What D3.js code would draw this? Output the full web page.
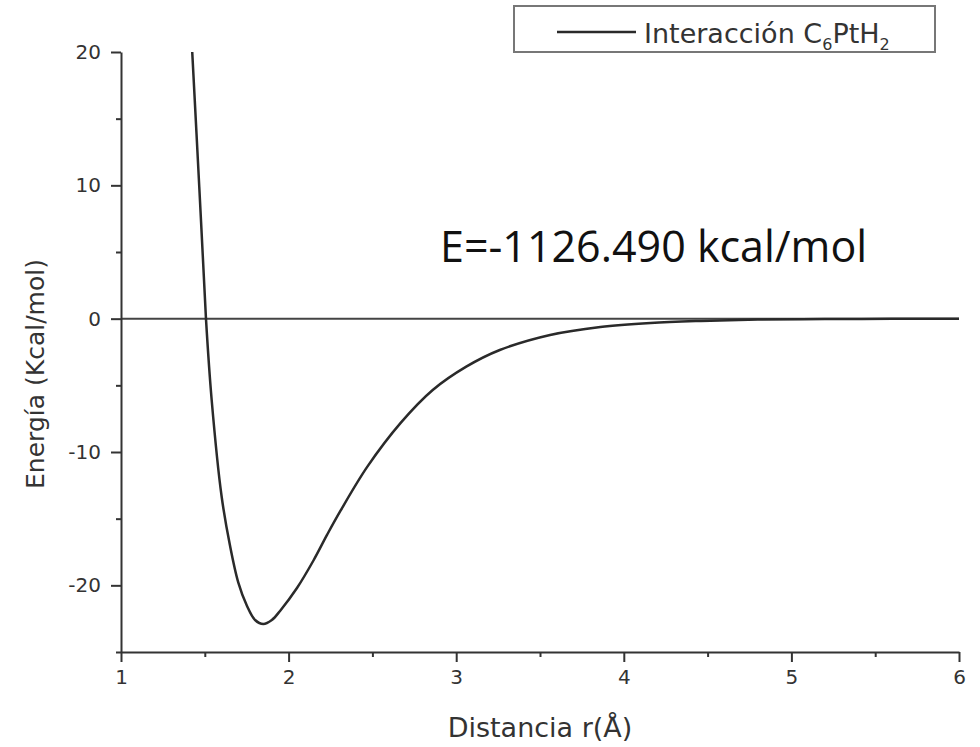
<!DOCTYPE html>
<html>
<head>
<meta charset="utf-8">
<script src="https://cdn.jsdelivr.net/npm/d3@7"></script>
<style>
  body { margin: 0; background: #fff; }
  svg text { fill: #333; font-family: "DejaVu Sans", sans-serif; }
</style>
</head>
<body>
<div id="chart"></div>
<script>
// distance r (Å) and energy (kcal/mol)
var distance = [1.425, 1.45, 1.48, 1.507, 1.541, 1.60, 1.65, 1.70, 1.75, 1.80, 1.849, 1.90, 1.95, 2.05, 2.15, 2.23, 2.31, 2.47, 2.67, 2.86, 3.06, 3.26, 3.56, 3.86, 4.16, 4.46, 4.8, 5.2, 5.6, 6.0];
var energy   = [20, 14.0, 6.7, 0, -6.1, -13.3, -17.0, -19.8, -21.5, -22.6, -22.9, -22.6, -21.9, -20.2, -18.1, -16.2, -14.4, -11.1, -7.8, -5.35, -3.6, -2.35, -1.22, -0.62, -0.32, -0.17, -0.07, -0.03, -0.01, 0];
var xTicks = [1, 2, 3, 4, 5, 6];
var xMinor = [1.5, 2.5, 3.5, 4.5, 5.5];
var yTicks = [20, 10, 0, -10, -20];
var yMinor = [15, 5, -5, -15, -25];

var width = 980, height = 747;
var x = d3.scaleLinear().domain([1, 6]).range([121, 959]);
var y = d3.scaleLinear().domain([-25, 20]).range([652, 52]);

var svg = d3.select('#chart').append('svg')
    .attr('width', width)
    .attr('height', height);

// zero line
svg.append('line')
    .attr('x1', x(1)).attr('x2', x(6))
    .attr('y1', y(0)).attr('y2', y(0))
    .attr('stroke', '#444').attr('stroke-width', 2);

// axes
function styleAxis(g) {
    g.selectAll('path, line').attr('stroke', '#333').attr('stroke-width', 2);
    g.selectAll('text').attr('font-size', 20).attr('fill', '#2b2b2b')
        .attr('font-family', '"DejaVu Sans", sans-serif');
}
var fmt = function(d) { return String(d); };

svg.append('g')
    .attr('transform', 'translate(0,' + y(-25) + ')')
    .call(d3.axisBottom(x).tickValues(xMinor).tickSize(5).tickSizeOuter(0).tickFormat(''))
    .call(styleAxis);
svg.append('g')
    .attr('transform', 'translate(0,' + y(-25) + ')')
    .call(d3.axisBottom(x).tickValues(xTicks).tickSize(10).tickSizeOuter(0).tickPadding(8).tickFormat(fmt))
    .call(styleAxis)
    .call(g => g.select('.domain').remove());

svg.append('g')
    .attr('transform', 'translate(' + x(1) + ',0)')
    .call(d3.axisLeft(y).tickValues(yMinor).tickSize(5).tickSizeOuter(0).tickFormat(''))
    .call(styleAxis);
svg.append('g')
    .attr('transform', 'translate(' + x(1) + ',0)')
    .call(d3.axisLeft(y).tickValues(yTicks).tickSize(10).tickSizeOuter(0).tickPadding(10).tickFormat(fmt))
    .call(styleAxis)
    .call(g => g.select('.domain').remove());

// curve
var pts = distance.map(function(d, i) { return [d, energy[i]]; });
var line = d3.line()
    .x(function(d) { return x(d[0]); })
    .y(function(d) { return y(d[1]); })
    .curve(d3.curveCatmullRom.alpha(0.5));
svg.append('path')
    .datum(pts)
    .attr('d', line)
    .attr('fill', 'none')
    .attr('stroke', '#2a2a2a')
    .attr('stroke-width', 2.5);

// axis titles
svg.append('text')
    .attr('x', 540).attr('y', 737)
    .attr('text-anchor', 'middle')
    .attr('font-size', 27)
    .text('Distancia r(Å)');
svg.append('text')
    .attr('transform', 'translate(44,374) rotate(-90)')
    .attr('text-anchor', 'middle')
    .attr('font-size', 25)
    .text('Energía (Kcal/mol)');

// annotation
svg.append('text')
    .attr('x', 440).attr('y', 262)
    .attr('font-size', 43)
    .style('font-family', '"Open Sans", sans-serif')
    .style('fill', '#111')
    .text('E=-1126.490 kcal/mol');

// legend
var lg = svg.append('g');
lg.append('rect')
    .attr('x', 514).attr('y', 6).attr('width', 421).attr('height', 46)
    .attr('fill', '#fff').attr('stroke', '#777').attr('stroke-width', 2);
lg.append('line')
    .attr('x1', 557).attr('x2', 636).attr('y1', 32).attr('y2', 32)
    .attr('stroke', '#2a2a2a').attr('stroke-width', 2.5);
var lt = lg.append('text').attr('x', 644).attr('y', 43).attr('font-size', 27);
lt.append('tspan').text('Interacción C');
lt.append('tspan').attr('font-size', 16).attr('dy', 7).text('6');
lt.append('tspan').attr('dy', -7).text('PtH');
lt.append('tspan').attr('font-size', 16).attr('dy', 7).text('2');
</script>
</body>
</html>
